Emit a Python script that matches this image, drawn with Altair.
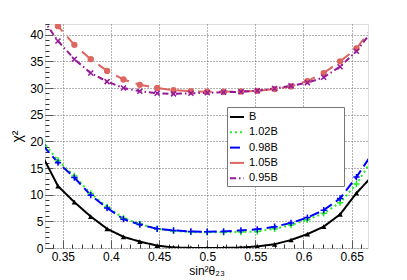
import altair as alt
import pandas as pd

# sin^2(theta23) sample points
sin2 = [0.329, 0.345, 0.362, 0.379, 0.396, 0.413, 0.430, 0.448, 0.465, 0.483, 0.500,
        0.517, 0.535, 0.552, 0.570, 0.587, 0.604, 0.621, 0.638, 0.655, 0.671]

chi_B = [17.2, 11.6, 8.6, 5.9, 3.6, 2.1, 1.2, 0.45, 0.1, 0.02, 0.0,
         0.02, 0.08, 0.3, 0.7, 1.5, 2.6, 4.0, 6.3, 10.3, 13.4]
chi_102 = [20.0, 16.4, 13.5, 10.2, 7.7, 5.6, 4.5, 3.6, 3.2, 3.0, 2.95,
           2.95, 3.0, 3.1, 3.6, 4.3, 5.3, 6.5, 8.5, 12.0, 16.5]
chi_098 = [19.3, 16.0, 13.2, 9.9, 7.5, 5.4, 4.4, 3.6, 3.3, 3.1, 3.05,
           3.1, 3.3, 3.5, 4.0, 4.7, 5.7, 7.1, 9.3, 13.3, 17.6]
chi_105 = [46.0, 41.6, 38.1, 35.4, 33.2, 31.6, 30.6, 30.0, 29.6, 29.4, 29.3,
           29.3, 29.35, 29.45, 29.8, 30.3, 31.3, 32.8, 35.0, 37.4, 41.2]
chi_095 = [43.0, 38.8, 35.4, 32.8, 31.2, 30.0, 29.4, 29.0, 28.9, 29.0, 29.1,
           29.2, 29.3, 29.5, 29.9, 30.4, 31.0, 32.0, 34.0, 36.9, 40.6]

series_names = ["B", "1.02B", "0.98B", "1.05B", "0.95B"]
series_values = [chi_B, chi_102, chi_098, chi_105, chi_095]
series_colors = ["#000000", "#22ee22", "#0000ff", "#dd6660", "#96189a"]
series_dash = [[1, 0], [2, 3], [10, 5], [14, 7], [6, 3, 1.5, 3]]

x_ticks = [0.34, 0.35, 0.36, 0.37, 0.38, 0.39, 0.40, 0.41, 0.42, 0.43, 0.44, 0.45,
           0.46, 0.47, 0.48, 0.49, 0.50, 0.51, 0.52, 0.53, 0.54, 0.55, 0.56, 0.57,
           0.58, 0.59, 0.60, 0.61, 0.62, 0.63, 0.64, 0.65, 0.66]
y_ticks = list(range(0, 43))

rows = []
for name, vals in zip(series_names, series_values):
    for xv, yv in zip(sin2, vals):
        rows.append({"s": name, "x": xv, "y": yv})
df = pd.DataFrame(rows)

FONT = "Liberation Sans"

x_scale = alt.Scale(domain=[0.3315, 0.667], nice=False, zero=False)
y_scale = alt.Scale(domain=[0, 42], nice=False)

x_axis = alt.Axis(
    values=x_ticks, tickCount=200, format="~g",
    labelExpr="round(datum.value*100) % 5 === 0 ? datum.label : ''",
    labelOverlap=False,
    offset=-8, tickSize=8, domain=False,
    tickColor="#333", tickWidth=1,
    tickDash={"condition": {"test": "round(datum.value*100) % 5 !== 0", "value": [0, 4, 4]}, "value": [1, 0]},
    grid=True, gridColor="#666", gridDash=[1, 2], gridWidth=1,
    gridOpacity={"condition": {"test": "round(datum.value*100) % 5 === 0", "value": 1}, "value": 0},
    labelPadding=3, labelFontSize=12, labelFont=FONT, labelColor="#000",
    title="sin²θ₂₃", titleFont=FONT, titleFontSize=12, titleFontWeight="normal",
    titleColor="#000", titlePadding=3,
)
y_axis = alt.Axis(
    values=y_ticks, tickCount=200, format="~g",
    labelExpr="datum.value % 5 === 0 ? datum.label : ''",
    labelOverlap=False,
    offset=-8, tickSize=8, domain=False,
    tickColor="#333", tickWidth=1,
    tickDash={"condition": {"test": "datum.value % 5 !== 0", "value": [0, 4, 4]}, "value": [1, 0]},
    grid=True, gridColor="#666", gridDash=[1, 2], gridWidth=1,
    gridOpacity={"condition": {"test": "datum.value % 5 === 0", "value": 1}, "value": 0},
    labelPadding=2, labelFontSize=12, labelFont=FONT, labelColor="#000",
    title="χ²", titleFont=FONT, titleFontSize=14, titleFontWeight="normal",
    titleColor="#000", titlePadding=5,
)

color_scale = alt.Scale(domain=series_names, range=series_colors)
dash_scale = alt.Scale(domain=series_names, range=series_dash)

pad_chars = "\u2800" * 8
legend = alt.Legend(
    orient="none", legendX=182, legendY=83, title=None,
    symbolType="stroke", symbolSize=196, symbolStrokeWidth=2,
    rowPadding=2.3, padding=2, labelOffset=4,
    labelFont=FONT, labelFontSize=11, labelColor="#000",
    labelExpr="datum.label + '" + pad_chars + "'",
    fillColor="white", strokeColor="#777",
)

base = alt.Chart(df)

lines = base.mark_line(strokeWidth=2, clip=True).encode(
    x=alt.X("x:Q", scale=x_scale, axis=x_axis),
    y=alt.Y("y:Q", scale=y_scale, axis=y_axis),
    color=alt.Color("s:N", scale=color_scale, legend=legend, sort=series_names),
    strokeDash=alt.StrokeDash("s:N", scale=dash_scale, legend=legend, sort=series_names),
    order=alt.Order("x:Q"),
)

def pts(name, shape, filled, size, color, sw=1.5):
    kw = dict(shape=shape, filled=filled, size=size, color=color, clip=True, opacity=1)
    if not filled:
        kw["strokeWidth"] = sw
    return base.transform_filter(alt.datum.s == name).mark_point(**kw).encode(
        x=alt.X("x:Q", scale=x_scale),
        y=alt.Y("y:Q", scale=y_scale),
    )

plus = "M-1,0L1,0M0,-1L0,1"
cross = "M-1,-1L1,1M-1,1L1,-1"

chart = alt.layer(
    lines,
    pts("B", "triangle-up", True, 30, "#000000"),
    pts("1.02B", plus, False, 40, "#22ee22"),
    pts("0.98B", plus, False, 40, "#0000ff"),
    pts("1.05B", "circle", True, 40, "#dd6660"),
    pts("0.95B", cross, False, 25, "#96189a"),
).properties(
    width=323, height=224,
    autosize=alt.AutoSizeParams(type="none"),
    padding={"left": 37, "top": 16, "right": 31, "bottom": 30},
).configure_view(
    stroke="#999", strokeWidth=2
).configure(background="white")

chart.save("out.html", embed_options={"renderer": "svg", "actions": False})
